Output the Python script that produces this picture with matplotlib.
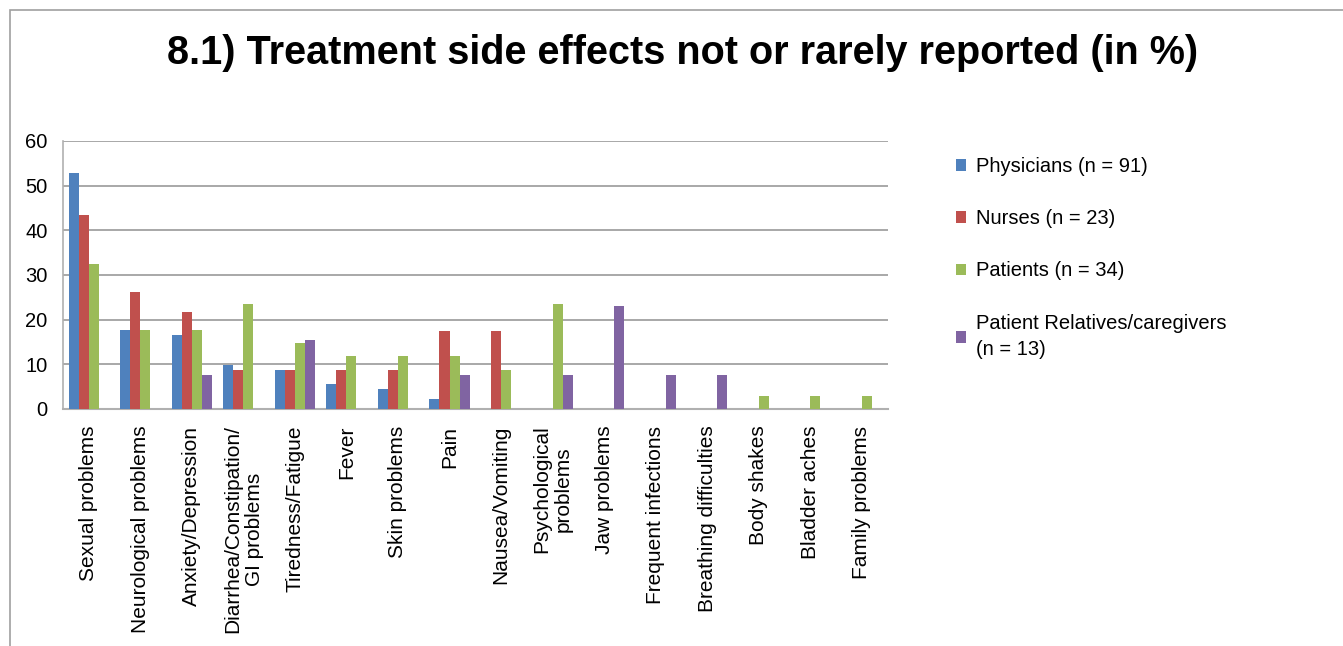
import numpy as np
import matplotlib.pyplot as plt
from matplotlib.patches import Rectangle

plt.rcParams['font.family'] = ['Liberation Sans', 'DejaVu Sans']

categories = [
    'Sexual problems', 'Neurological problems', 'Anxiety/Depression',
    'Diarrhea/Constipation/\nGI problems', 'Tiredness/Fatigue', 'Fever',
    'Skin problems', 'Pain', 'Nausea/Vomiting', 'Psychological\nproblems',
    'Jaw problems', 'Frequent infections', 'Breathing difficulties',
    'Body shakes', 'Bladder aches', 'Family problems',
]

# percentages per group (NaN = not reported)
nan = np.nan
physicians = [52.7, 17.6, 16.5, 9.9, 8.8, 5.5, 4.4, 2.2, nan, nan, nan, nan, nan, nan, nan, nan]
nurses = [43.5, 26.1, 21.7, 8.7, 8.7, 8.7, 8.7, 17.4, 17.4, nan, nan, nan, nan, nan, nan, nan]
patients = [32.4, 17.6, 17.6, 23.5, 14.7, 11.8, 11.8, 11.8, 8.8, 23.5, nan, nan, nan, 2.9, 2.9, 2.9]
relatives = [nan, nan, 7.7, nan, 15.4, nan, nan, 7.7, nan, 7.7, 23.1, 7.7, 7.7, nan, nan, nan]

series = [
    ('Physicians (n = 91)', physicians, '#4F81BD'),
    ('Nurses (n = 23)', nurses, '#C0504D'),
    ('Patients (n = 34)', patients, '#9BBB59'),
    ('Patient Relatives/caregivers\n(n = 13)', relatives, '#8064A2'),
]

fig = plt.figure(figsize=(13.43, 6.46), dpi=100)
ax = fig.add_axes([0.0469, 0.367, 0.614, 0.415])

x = np.arange(len(categories))
width = 0.195
for i, (label, vals, color) in enumerate(series):
    ax.bar(x + (i - 1.5) * width, vals, width, color=color, label=label, zorder=3)

ax.set_xlim(-0.5, len(categories) - 0.5)
ax.set_ylim(0, 60)
ax.set_yticks(range(0, 61, 10))
ax.yaxis.grid(True, color='#9a9a9a', linewidth=1.2, zorder=0)
ax.set_xticks(x)
ax.set_xticklabels(categories, rotation=90, fontsize=15)
ax.tick_params(axis='y', labelsize=14.5, length=0, pad=11)
ax.tick_params(axis='x', length=0, pad=12)
for side in ('top', 'right'):
    ax.spines[side].set_visible(False)
ax.spines['left'].set_color('#b0b0b0')
ax.spines['bottom'].set_color('#b0b0b0')
ax.spines['left'].set_linewidth(1.2)
ax.spines['bottom'].set_linewidth(1.5)

fig.text(0.508, 0.918, '8.1) Treatment side effects not or rarely reported (in %)',
         ha='center', va='center', fontsize=28.5, fontweight='bold')

leg = fig.legend(loc='upper left', bbox_to_anchor=(0.712, 0.757), frameon=False,
                 fontsize=14.5, handlelength=0.5, handleheight=0.5, handletextpad=0.5,
                 labelspacing=1.65, borderaxespad=0, borderpad=0)
for t in leg.get_texts():
    t.set_linespacing(1.5)

# outer chart frame
fig.patches.append(Rectangle((10 / 1343, -0.1), 1.2, 1 - 10 / 646 + 0.1,
                             transform=fig.transFigure, fill=False,
                             edgecolor='#a0a0a0', linewidth=1.2))

fig.savefig('out.png', dpi=100)
